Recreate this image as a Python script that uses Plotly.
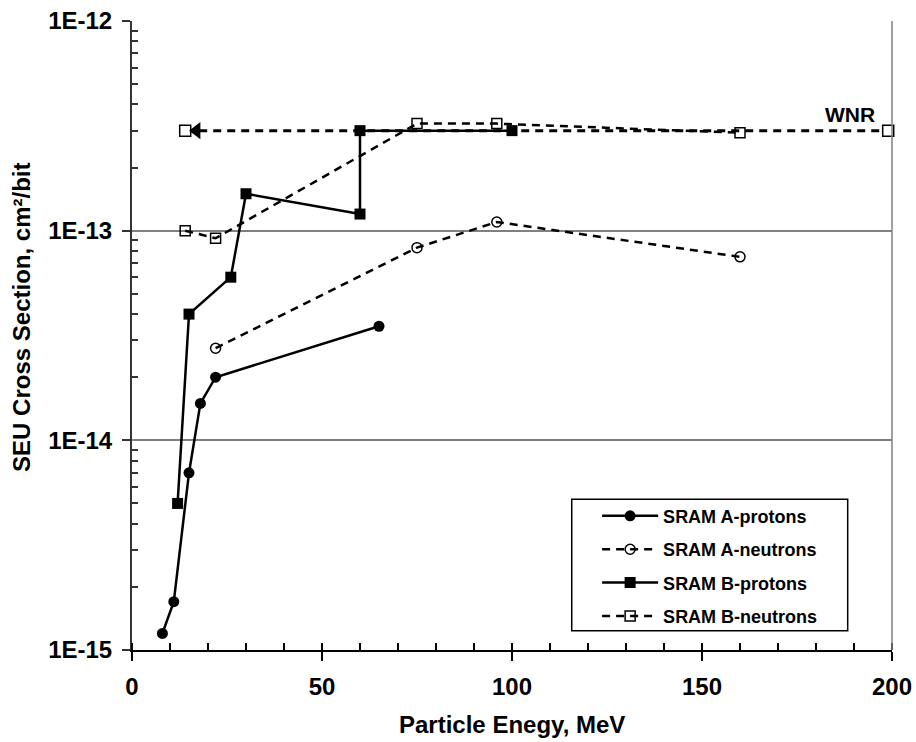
import math
import plotly.graph_objects as go

# ---- data ----
a_prot_x = [8, 11, 15, 18, 22, 65]
a_prot_y = [1.2e-15, 1.7e-15, 7.0e-15, 1.5e-14, 2.0e-14, 3.5e-14]

a_neut_x = [22, 75, 96, 160]
a_neut_y = [2.75e-14, 8.3e-14, 1.1e-13, 7.5e-14]

b_prot_x = [12, 15, 26, 30, 60, 60, 100]
b_prot_y = [5.0e-15, 4.0e-14, 6.0e-14, 1.5e-13, 1.2e-13, 3.0e-13, 3.0e-13]

b_neut_x = [14, 22, 75, 96, 160]
b_neut_y = [1.0e-13, 9.2e-14, 3.24e-13, 3.24e-13, 2.93e-13]

wnr_x = [14, 199]
wnr_y = [3.0e-13, 3.0e-13]
wnr_arrow_x = [17, 202]
wnr_label = "WNR"
wnr_label_x = 189
wnr_label_y = 3.6e-13

x_ticks = [0, 50, 100, 150, 200]
y_ticks = [1e-15, 1e-14, 1e-13, 1e-12]
y_ticklabels = ["1E-15", "1E-14", "1E-13", "1E-12"]
y_minor = [m * 10.0 ** e for e in (-15, -14, -13) for m in range(2, 10)]

x_title = "Particle Enegy, MeV"
y_title = "SEU Cross Section, cm²/bit"

FONT = "Liberation Sans, Arial, sans-serif"
DASH = "8px,6px"

fig = go.Figure()

# WNR arrow line (dashed) with end squares and arrowheads
fig.add_trace(go.Scatter(
    x=wnr_x, y=wnr_y, mode="lines+markers", showlegend=False,
    line=dict(color="black", width=3, dash=DASH),
    marker=dict(symbol="square", size=11, color="white",
                line=dict(color="black", width=1.5)),
    cliponaxis=False,
))
fig.add_trace(go.Scatter(
    x=wnr_arrow_x, y=wnr_y, mode="markers", showlegend=False,
    marker=dict(symbol=["triangle-left", "triangle-right"], size=15, color="black"),
    cliponaxis=False,
))

fig.add_trace(go.Scatter(
    x=a_prot_x, y=a_prot_y, name="SRAM A-protons", mode="lines+markers",
    legendgroup="a", line=dict(color="black", width=2.5),
    marker=dict(symbol="circle", size=11, color="black"),
))
fig.add_trace(go.Scatter(
    x=a_neut_x, y=a_neut_y, name="SRAM A-neutrons", mode="lines+markers",
    legendgroup="b", line=dict(color="black", width=2.5, dash=DASH),
    marker=dict(symbol="circle-open", size=10, color="black",
                line=dict(color="black", width=1.5)),
))
fig.add_trace(go.Scatter(
    x=b_prot_x, y=b_prot_y, name="SRAM B-protons", mode="lines+markers",
    legendgroup="c", line=dict(color="black", width=2.5),
    marker=dict(symbol="square", size=11, color="black"),
))
fig.add_trace(go.Scatter(
    x=b_neut_x, y=b_neut_y, name="SRAM B-neutrons", mode="lines+markers",
    legendgroup="d", line=dict(color="black", width=2.5, dash=DASH),
    marker=dict(symbol="square-open", size=10, color="black",
                line=dict(color="black", width=1.5)),
))

fig.add_annotation(
    x=wnr_label_x, y=math.log10(wnr_label_y),
    xref="x", yref="y", text=wnr_label, showarrow=False,
    font=dict(family=FONT, size=21, color="black", weight="bold"),
    yanchor="middle", xanchor="center",
)

# axis titles
fig.add_annotation(
    x=0.5, y=-0.119, xref="paper", yref="paper", text=x_title, showarrow=False,
    font=dict(family=FONT, size=24, color="black", weight="bold"),
    xanchor="center", yanchor="middle",
)
fig.add_annotation(
    x=-0.1447, y=0.528, xref="paper", yref="paper", text=y_title, showarrow=False,
    textangle=-90,
    font=dict(family=FONT, size=24, color="black", weight="bold"),
    xanchor="center", yanchor="middle",
)

# right border and legend box
fig.add_shape(type="line", xref="paper", yref="paper", x0=1, x1=1, y0=0, y1=1,
              line=dict(color="#808080", width=1.5))
fig.add_shape(type="rect", xref="paper", yref="paper",
              x0=0.5786, x1=0.9417, y0=0.0307, y1=0.2396,
              line=dict(color="black", width=1.5), fillcolor="white", layer="below")

fig.update_layout(
    width=916, height=742,
    margin=dict(l=132, r=24, t=21, b=92, autoexpand=False),
    paper_bgcolor="white", plot_bgcolor="rgba(0,0,0,0)",
    font=dict(family=FONT, color="black"),
    showlegend=True,
    legend=dict(
        x=0.612, y=0.2423, xanchor="left", yanchor="top",
        bgcolor="rgba(0,0,0,0)", borderwidth=0,
        font=dict(family=FONT, size=18, color="black", weight="bold"),
        itemwidth=56, traceorder="grouped", tracegroupgap=7,
    ),
    xaxis=dict(
        range=[0, 200], tickvals=x_ticks, automargin=False,
        ticks="outside", ticklen=9, tickwidth=1.5, tickcolor="black",
        showline=True, linecolor="black", linewidth=2,
        showgrid=False, zeroline=False,
        ticklabeloverflow="allow", ticklabelstandoff=5,
        tickfont=dict(family=FONT, size=24, color="black", weight="bold"),
        minor=dict(dtick=10, ticks="inside", ticklen=7, tickwidth=1.5,
                   tickcolor="black", showgrid=False),
    ),
    yaxis=dict(
        type="log", range=[-15, -12], automargin=False,
        tickvals=y_ticks, ticktext=y_ticklabels,
        ticks="outside", ticklen=8, tickwidth=1.5, tickcolor="#333333",
        showline=True, linecolor="#333333", linewidth=2,
        showgrid=True, gridcolor="#808080", gridwidth=1.5,
        zeroline=False,
        ticklabeloverflow="allow", ticklabelstandoff=5,
        tickfont=dict(family=FONT, size=24, color="black", weight="bold"),
        minor=dict(tickvals=y_minor, ticks="inside", ticklen=6, tickwidth=1.5,
                   tickcolor="#333333", showgrid=False),
    ),
)

fig.write_html(
    "out.html",
    config={"displayModeBar": False},
    post_script="document.body.style.margin='0';"
                "document.documentElement.style.overflow='hidden';",
)
